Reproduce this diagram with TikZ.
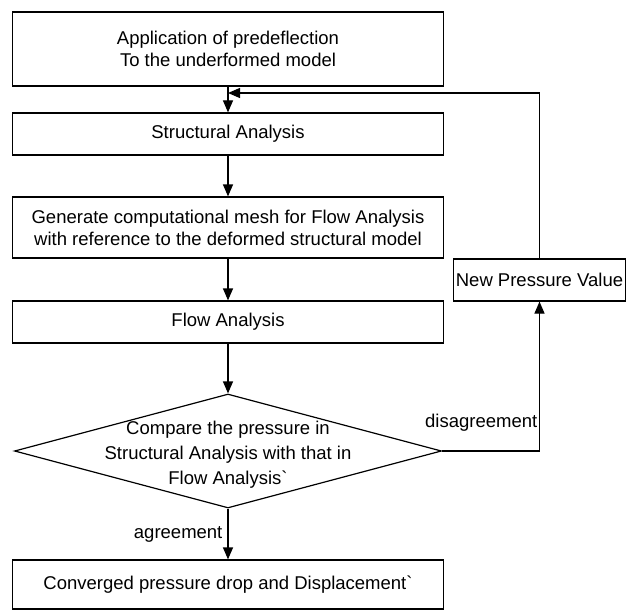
\documentclass[tikz,border=0pt]{standalone}
\usepackage{fontspec}
\setmainfont{Liberation Sans}
\usetikzlibrary{arrows.meta,positioning,shapes.geometric,calc}

\begin{document}
\begin{tikzpicture}[x=1pt, y=-1pt,
    box/.style={draw, line width=1.2pt, minimum width=431pt,
                minimum height=#1, inner sep=2pt, align=center,
                font=\fontsize{18.5}{22}\selectfont},
    decision/.style={draw, diamond, line width=1.2pt, minimum width=427pt,
                minimum height=114pt, inner sep=0pt},
    arr/.style={-{Triangle[length=12pt, width=10pt]}, line width=1.2pt},
    line/.style={line width=1.2pt},
    lbl/.style={font=\fontsize{18.5}{22}\selectfont, inner sep=1pt}]

    \useasboundingbox (0,0) rectangle (632,615);

    % main column
    \node[box=74pt] (app)  at (228,49)    {Application of predeflection\\To the underformed model};
    \node[box=42pt] (struct) at (228,134) {Structural Analysis};
    \node[box=61pt] (mesh) at (228,227.5) {Generate computational mesh for Flow Analysis\\with reference to the deformed structural model};
    \node[box=42pt] (flow) at (228,322)   {Flow Analysis};
    \node[decision] (cmp)  at (228,451)   {};
    \node[lbl, align=center, font=\fontsize{18.5}{25}\selectfont] (cmptxt) at ($(cmp.center)+(0,4)$)
         {Compare the pressure in\\Structural Analysis with that in\\Flow Analysis\textasciigrave};
    \node[box=49pt] (conv) at (228,584.5) {Converged pressure drop and Displacement\textasciigrave};

    % feedback branch
    \node[box=42pt, minimum width=169pt] (npv) at (539.5,280) {New Pressure Value};
    \coordinate (join) at (app.south |- 0,93);

    \draw[arr] (app)    -- (struct);
    \draw[arr] (struct) -- (mesh);
    \draw[arr] (mesh)   -- (flow);
    \draw[arr] (flow)   -- (cmp.north);
    \draw[arr] (cmp.south) -- node[lbl, left=4pt] {agreement} (conv);

    \draw[line] (cmp.east) -- (npv.south |- cmp.east) coordinate (turn);
    \draw[arr] (turn) -- (npv.south);
    \draw[arr] (npv.north) |- (join);
    \node[lbl, anchor=base east] (dis) at ($(turn)+(-1,-24)$) {disagreement};
\end{tikzpicture}
\end{document}
